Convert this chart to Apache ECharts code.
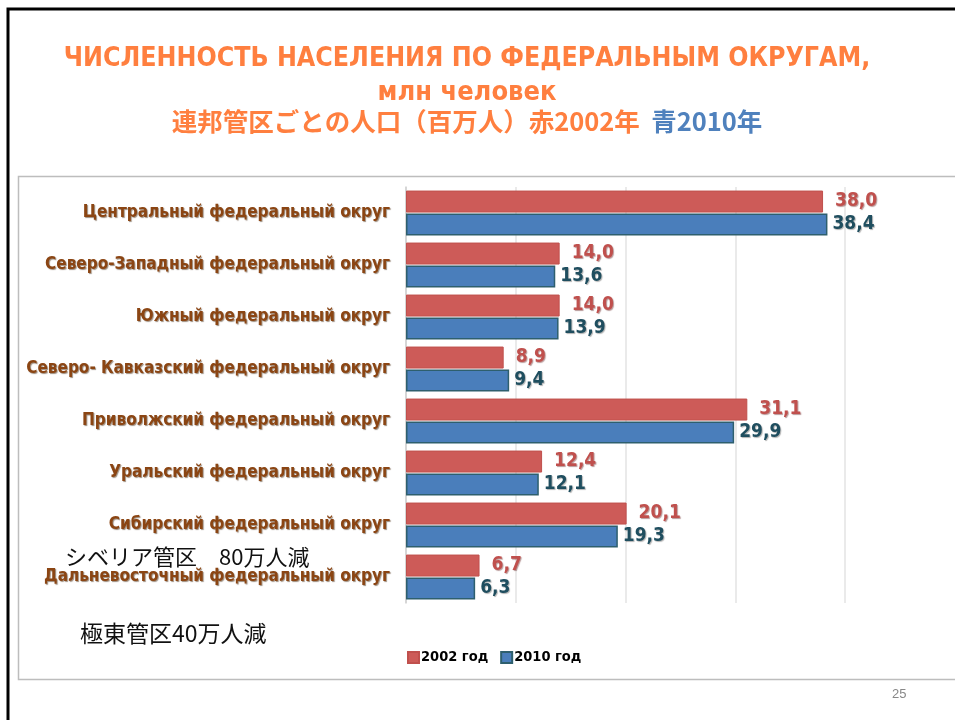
<!DOCTYPE html>
<html>
<head>
<meta charset="utf-8">
<script src="https://cdn.jsdelivr.net/npm/echarts@6/dist/echarts.min.js"></script>
<style>
  html, body { margin: 0; padding: 0; background: #fff; }
  #chart { width: 955px; height: 720px; }
</style>
</head>
<body>
<div id="chart"></div>
<script>
var okruga = [
    'Центральный федеральный округ',
    'Северо-Западный федеральный округ',
    'Южный федеральный округ',
    'Северо- Кавказский федеральный округ',
    'Приволжский федеральный округ',
    'Уральский федеральный округ',
    'Сибирский федеральный округ',
    'Дальневосточный федеральный округ'
];
var god2002 = [38.0, 14.0, 14.0, 8.9, 31.1, 12.4, 20.1, 6.7];
var god2010 = [38.4, 13.6, 13.9, 9.4, 29.9, 12.1, 19.3, 6.3];
var seriesNames = ['2002 год', '2010 год'];

var chart = echarts.init(document.getElementById('chart'));

function fmt(p) {
    return p.value.toFixed(1).replace('.', ',');
}

var option = {
    animation: false,
    textStyle: { fontFamily: 'DejaVu Sans Condensed' },
    title: [
        {
            text: 'ЧИСЛЕННОСТЬ НАСЕЛЕНИЯ ПО ФЕДЕРАЛЬНЫМ ОКРУГАМ,',
            left: 462, top: 41, textAlign: 'center',
            textStyle: { color: '#FF7F3F', fontSize: 26.5, fontWeight: 'bold', fontFamily: 'DejaVu Sans Condensed' }
        },
        {
            text: 'млн человек',
            left: 462, top: 74, textAlign: 'center',
            textStyle: { color: '#FF7F3F', fontSize: 27, fontWeight: 'bold', fontFamily: 'DejaVu Sans Condensed' }
        },
        {
            text: '{o|連邦管区ごとの人口（百万人）赤2002年}  {b|青2010年}',
            left: 462, top: 104, textAlign: 'center',
            textStyle: {
                rich: {
                    o: { color: '#FF7F3F', fontSize: 25.5, fontWeight: 'bold', fontFamily: 'Noto Sans CJK JP' },
                    b: { color: '#4F81BD', fontSize: 25.5, fontWeight: 'bold', fontFamily: 'Noto Sans CJK JP' }
                }
            }
        }
    ],
    graphic: [
        { type: 'rect', shape: { x: 8, y: 9, width: 1000, height: 800 }, style: { fill: 'none', stroke: '#000', lineWidth: 3 } },
        { type: 'rect', shape: { x: 18.5, y: 176.5, width: 1000, height: 503 }, style: { fill: 'none', stroke: '#bdbdbd', lineWidth: 1.5 } },
        { type: 'text', x: 65, y: 557, style: { text: 'シベリア管区　80万人減', fill: '#111', fontSize: 22, fontFamily: 'Noto Sans CJK JP', verticalAlign: 'middle' } },
        { type: 'text', x: 80, y: 633, style: { text: '極東管区40万人減', fill: '#111', fontSize: 23, fontFamily: 'Noto Sans CJK JP', verticalAlign: 'middle' } },
        { type: 'text', x: 892, y: 688, style: { text: '25', fill: '#888', fontSize: 13, fontFamily: 'Liberation Sans' } }
    ],
    legend: {
        data: seriesNames,
        left: 402, top: 645,
        itemWidth: 11, itemHeight: 11, itemGap: 12,
        icon: 'rect',
        textStyle: { color: '#000', fontSize: 14.5, fontWeight: 'bold', fontFamily: 'DejaVu Sans Condensed', padding: [0, 0, 0, -3] }
    },
    grid: { left: 406, right: 110, top: 187, bottom: 117, containLabel: false },
    xAxis: {
        type: 'value',
        min: 0, max: 40, interval: 10,
        axisLabel: { show: false },
        axisTick: { show: false },
        axisLine: { show: false },
        splitLine: { lineStyle: { color: '#e3e3e3', width: 1.5 } }
    },
    yAxis: {
        type: 'category',
        inverse: true,
        data: okruga,
        axisTick: { show: false },
        axisLine: { lineStyle: { color: '#cfcfcf', width: 1.5 } },
        axisLabel: {
            margin: 16,
            color: '#8B4513',
            fontSize: 17,
            fontWeight: 'bold',
            fontFamily: 'DejaVu Sans Condensed',
            textShadowColor: 'rgba(60,30,0,0.5)',
            textShadowOffsetX: 1,
            textShadowOffsetY: 1,
            textShadowBlur: 1
        }
    },
    series: [
        {
            name: seriesNames[0],
            type: 'bar',
            data: god2002,
            barWidth: 22,
            barGap: '4%',
            itemStyle: { color: '#CD5B58', borderColor: '#C0504D', borderWidth: 1 },
            label: {
                show: true, position: 'right', distance: 12, formatter: fmt,
                color: '#C0504D', fontSize: 19, fontWeight: 'bold', fontFamily: 'DejaVu Sans Condensed',
                textShadowColor: 'rgba(80,0,0,0.4)', textShadowOffsetX: 1, textShadowOffsetY: 1, textShadowBlur: 1
            }
        },
        {
            name: seriesNames[1],
            type: 'bar',
            data: god2010,
            barWidth: 22,
            itemStyle: { color: '#4A7EBB', borderColor: '#2E5F6E', borderWidth: 1.5 },
            label: {
                show: true, position: 'right', distance: 5, formatter: fmt,
                color: '#1F4E5F', fontSize: 19, fontWeight: 'bold', fontFamily: 'DejaVu Sans Condensed',
                textShadowColor: 'rgba(0,0,0,0.3)', textShadowOffsetX: 1, textShadowOffsetY: 1, textShadowBlur: 1
            }
        }
    ]
};

chart.setOption(option);
</script>
</body>
</html>
